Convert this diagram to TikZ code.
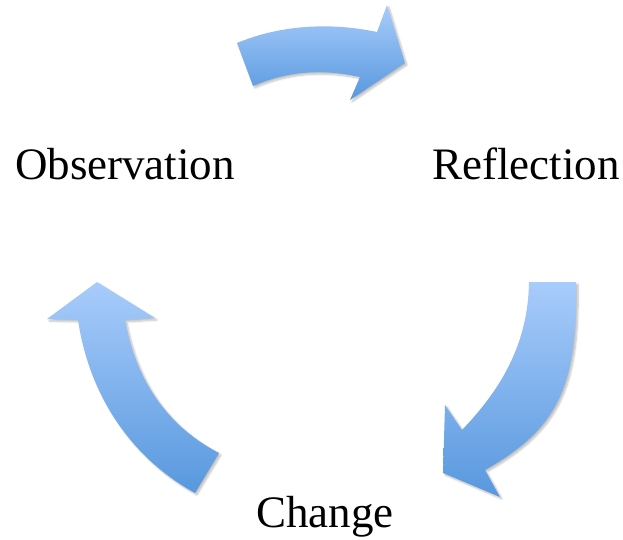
\documentclass[tikz,border=0pt]{standalone}
\usepackage{fontspec}
\setmainfont{Liberation Serif}
\usetikzlibrary{shadows.blur}
\definecolor{arrowlight}{RGB}{168,204,251}
\definecolor{arrowdark}{RGB}{88,152,222}
\begin{document}
\begin{tikzpicture}[x=1pt,y=-1pt,
    blockarrow/.style={top color=arrowlight, bottom color=arrowdark, draw=none,
        blur shadow={shadow xshift=2pt, shadow yshift=-2pt, shadow opacity=25, shadow blur steps=6}},
    phase/.style={anchor=base, font=\fontsize{45}{50}\selectfont}]
    \useasboundingbox (0,0) rectangle (623,539);
    % the three phases
    \node[phase] (obs) at (125,179) {Observation};
    \node[phase] (refl) at (526,179) {Reflection};
    \node[phase] (chg) at (325,527) {Change};
    % observation -> reflection
    \path[blockarrow] (237,43) .. controls (280,25) and (330,22) .. (377,32)
        -- (387,5) -- (405,63) -- (350,100) -- (360,77)
        .. controls (320,68) and (285,72) .. (253,86) -- cycle;
    % reflection -> change
    \path[blockarrow] (529,282) -- (576,282)
        .. controls (578,390) and (555,430) .. (485,470)
        -- (500,497) -- (443,473) -- (445,405) -- (462,430)
        .. controls (505,385) and (528,340) .. (529,282) -- cycle;
    % change -> observation
    \path[blockarrow] (97,282) -- (155,318) -- (125,320)
        .. controls (138,390) and (175,430) .. (219,453) -- (195,493)
        .. controls (135,460) and (90,400) .. (78,320) -- (47,319) -- cycle;
\end{tikzpicture}
\end{document}
